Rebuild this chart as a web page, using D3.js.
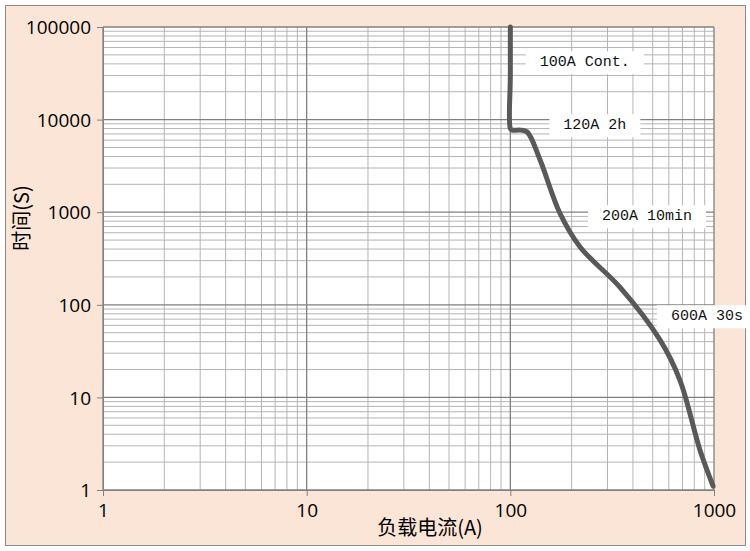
<!DOCTYPE html>
<html><head><meta charset="utf-8">
<script src="https://cdn.jsdelivr.net/npm/d3@7"></script>
<style>body{margin:0;background:#fff}</style>
</head><body>
<div id="chart"></div>
<script>
// curve: load current (A) vs trip time (s)
var currents = [100, 100, 100, 102, 112, 121, 140, 175, 220, 345, 542, 680, 853, 990]
var times    = [100000, 30000, 8000, 7700, 7700, 7350, 3660, 980, 421, 155, 42, 15.4, 2.7, 1.1]
var xTicks = [1, 10, 100, 1000]
var yTicks = [1, 10, 100, 1000, 10000, 100000]
var labels = ["100A Cont.", "120A 2h", "200A 10min", "600A 30s"]
var labelAt = [[232, 42950], [260, 8980], [469, 933], [923, 77.6]]

var W = 750, H = 551
var margin = {top: 27, right: 36, bottom: 61, left: 103},
    width = W - margin.left - margin.right,
    height = H - margin.top - margin.bottom

var svg = d3.select("#chart").append("svg").attr("width", W).attr("height", H)
svg.append("rect").attr("x", 5.5).attr("y", 5.5).attr("width", 740).attr("height", 540)
    .attr("fill", "#fbe5d6").attr("stroke", "#8c8c8c")

var g = svg.append("g").attr("transform", "translate(" + margin.left + "," + margin.top + ")")

var x = d3.scaleLog().domain([1, 1000]).range([0, width])
var y = d3.scaleLog().domain([1, 100000]).range([height, 0])

g.append("rect").attr("width", width).attr("height", height).attr("fill", "#fff")

// minor grid
var minorX = [], minorY = []
for (var d = 1; d < 1000; d *= 10) for (var k = 2; k <= 9; k++) minorX.push(d * k)
for (var d = 1; d < 100000; d *= 10) for (var k = 2; k <= 9; k++) minorY.push(d * k)
g.selectAll(".mx").data(minorX).enter().append("line")
    .attr("x1", d => x(d)).attr("x2", d => x(d)).attr("y1", 0).attr("y2", height)
    .attr("stroke", "#b4b4b4").attr("stroke-width", 1)
g.selectAll(".my").data(minorY).enter().append("line")
    .attr("y1", d => y(d)).attr("y2", d => y(d)).attr("x1", 0).attr("x2", width)
    .attr("stroke", "#b4b4b4").attr("stroke-width", 1)
// major grid
g.selectAll(".Mx").data(xTicks).enter().append("line")
    .attr("x1", d => x(d)).attr("x2", d => x(d)).attr("y1", 0).attr("y2", height)
    .attr("stroke", "#808080").attr("stroke-width", 1.3)
g.selectAll(".My").data(yTicks).enter().append("line")
    .attr("y1", d => y(d)).attr("y2", d => y(d)).attr("x1", 0).attr("x2", width)
    .attr("stroke", "#808080").attr("stroke-width", 1.3)

var fmt = d3.format("d")
var ax = g.append("g").attr("transform", "translate(0," + height + ")")
    .call(d3.axisBottom(x).tickValues(xTicks).tickFormat(fmt).tickSize(6).tickPadding(8))
var ay = g.append("g")
    .call(d3.axisLeft(y).tickValues(yTicks).tickFormat(fmt).tickSize(6).tickPadding(6))
;[ax, ay].forEach(a => {
    a.select(".domain").attr("stroke", "#808080")
    a.selectAll(".tick line").attr("stroke", "#808080")
    a.selectAll("text").attr("font-family", "Open Sans, Liberation Sans, sans-serif")
        .attr("font-size", 19).attr("fill", "#000")
})
ay.selectAll("text").attr("dy", "0.35em")

// labels with white boxes
labels.forEach((t, i) => {
    var lx = x(labelAt[i][0]), ly = y(labelAt[i][1])
    var lt = g.append("text").attr("x", lx).attr("y", ly).attr("dy", "0.35em")
        .attr("text-anchor", "middle").attr("font-family", "Liberation Mono, monospace")
        .attr("font-size", 15).attr("fill", "#111").text(t)
    var b = lt.node().getBBox()
    g.insert("rect", function () { return lt.node() })
        .attr("x", b.x - 14).attr("y", b.y - 3).attr("width", b.width + 28).attr("height", b.height + 6)
        .attr("fill", "#fff")
})

var line = d3.line().x((d, i) => x(currents[i])).y(d => y(d)).curve(d3.curveCatmullRom.alpha(0.5))
g.append("path").datum(times).attr("d", line)
    .attr("fill", "none").attr("stroke", "#595959").attr("stroke-width", 5).attr("stroke-linecap", "round")

svg.append("text").attr("x", 430).attr("y", 535).attr("text-anchor", "middle")
    .attr("font-family", "Noto Sans CJK SC").attr("font-size", 20).text("负载电流(A)")
svg.append("text").attr("transform", "translate(29,218) rotate(-90)").attr("text-anchor", "middle")
    .attr("font-family", "Noto Sans CJK SC").attr("font-size", 20).text("时间(S)")
</script>
</body></html>
